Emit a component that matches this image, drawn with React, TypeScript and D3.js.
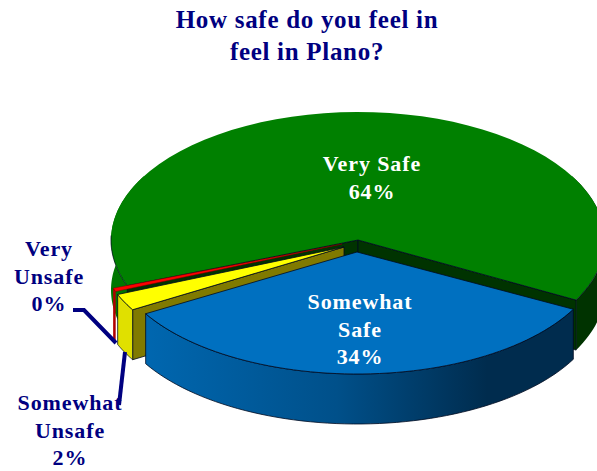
import React from "react";
import * as d3 from "d3";

const categories = ["Somewhat Safe", "Somewhat Unsafe", "Very Unsafe", "Very Safe"];
const values = [34, 2.2, 0.45, 64];
const topColors = ["#0070c0", "#ffff00", "#ff0000", "#008000"];
const sideColors = ["#002c4e", "#807a00", "#b00000", "#003300"];
const titleLines = ["How safe do you feel in", "feel in Plano?"];
const deg = Math.PI / 180;
const startDeg = 118;
const depth = 50;
const centers = [
  { x: 357, y: 252, rx: 245, ry: 122 },
  { x: 344, y: 247, rx: 245, ry: 124 },
  { x: 342, y: 244, rx: 245, ry: 124 },
  { x: 358, y: 240, rx: 247, ry: 128 },
];
const ink = "#000a20";
const navy = "#000080";

const pie = d3.pie<number>().sort(null).startAngle(startDeg * deg).endAngle((startDeg + 360) * deg);
const slices = pie(values);

type C = { x: number; y: number; rx: number; ry: number };
const pt = (c: C, a: number, dy = 0): [number, number] => [
  c.x + c.rx * Math.sin(a),
  c.y - c.ry * Math.cos(a) + dy,
];
const line = d3.line<[number, number]>();
const arcPts = (c: C, a0: number, a1: number, dy = 0) =>
  d3.range(0, 61).map((i) => pt(c, a0 + ((a1 - a0) * i) / 60, dy));

const topPath = (c: C, a0: number, a1: number) =>
  line([[c.x, c.y], ...arcPts(c, a0, a1)])! + "Z";
const outerWall = (c: C, a0: number, a1: number) =>
  line([...arcPts(c, a0, a1), ...arcPts(c, a1, a0, depth)])! + "Z";
const radialWall = (c: C, a: number) =>
  line([[c.x, c.y], pt(c, a), pt(c, a, depth), [c.x, c.y + depth]])! + "Z";

const labelStyle = {
  fontFamily: "'Liberation Serif', serif",
  fontWeight: 700,
  fontSize: 22,
  letterSpacing: 0.9,
  textAnchor: "middle" as const,
};

function Label({ x, y, lines, fill }: { x: number; y: number; lines: string[]; fill: string }) {
  return (
    <text {...labelStyle} fill={fill} x={x} y={y}>
      {lines.map((l, i) => (
        <tspan key={l} x={x} dy={i === 0 ? 0 : 27.5}>{l}</tspan>
      ))}
    </text>
  );
}

export default function App() {
  const [blue, yellow, red, green] = slices;
  const cB = centers[0], cY = centers[1], cR = centers[2], cG = centers[3];
  const strokeProps = { stroke: ink, strokeWidth: 0.8, strokeLinejoin: "round" as const };
  return (
    <svg width={597} height={471} style={{ position: "absolute", left: 0, top: 0, background: "#fff" }}>
      <defs>
        <linearGradient id="blueWall" gradientUnits="userSpaceOnUse" x1={143} x2={573} y1={0} y2={0}>
          <stop offset="0" stopColor="#0067b0" />
          <stop offset="0.45" stopColor="#00508a" />
          <stop offset="0.8" stopColor={sideColors[0]} />
        </linearGradient>
        <linearGradient id="greenWall" gradientUnits="userSpaceOnUse" x1={111} x2={597} y1={0} y2={0}>
          <stop offset="0" stopColor="#007800" />
          <stop offset="0.9" stopColor={sideColors[3]} />
        </linearGradient>
      </defs>

      {/* green slice: walls, then top */}
      <path d={outerWall(cG, 248 * deg, 300 * deg)} fill="url(#greenWall)" stroke="none" />
      <path d={outerWall(cG, 60 * deg, startDeg * deg)} fill={sideColors[3]} stroke="none" />
      <path d={radialWall(cG, green.startAngle)} fill={sideColors[3]} {...strokeProps} />
      <path d={radialWall(cG, green.endAngle)} fill={sideColors[3]} {...strokeProps} />
      <path d={topPath(cG, green.startAngle, green.endAngle)} fill={topColors[3]} stroke="none" />
      <path d={line(arcPts(cG, green.startAngle, 272 * deg))!} fill="none" {...strokeProps} />
      <path d={line(arcPts(cG, 88 * deg, startDeg * deg))!} fill="none" {...strokeProps} />
      <path d={line([pt(cG, green.startAngle), [cG.x, cG.y], pt(cG, startDeg * deg)])!} fill="none" {...strokeProps} />

      {/* red sliver */}
      <path d={outerWall(cR, red.startAngle, red.endAngle)} fill={sideColors[2]} stroke="none" />
      <path d={topPath(cR, red.startAngle, red.endAngle)} fill={topColors[2]} stroke="#7a0000" strokeWidth={0.5} />

      {/* yellow slice */}
      <path d={radialWall(cY, yellow.startAngle)} fill={sideColors[1]} {...strokeProps} />
      <path d={outerWall(cY, yellow.startAngle, yellow.endAngle)} fill="#e0e000" {...strokeProps} />
      <path d={topPath(cY, yellow.startAngle, yellow.endAngle)} fill={topColors[1]} {...strokeProps} />

      {/* blue slice */}
      <path d={outerWall(cB, blue.startAngle, blue.endAngle)} fill="url(#blueWall)" {...strokeProps} />
      <path d={topPath(cB, blue.startAngle, blue.endAngle)} fill={topColors[0]} {...strokeProps} />

      {/* leader lines */}
      <polyline points="73,310 84,310 116,343" fill="none" stroke={navy} strokeWidth={4} />
      <polyline points="125,352 119,405" fill="none" stroke={navy} strokeWidth={4} />

      {/* title */}
      <text fontFamily="'Liberation Serif', serif" fontWeight={700} fontSize={25} letterSpacing={0.7} fill={navy} textAnchor="middle">
        {titleLines.map((l, i) => (
          <tspan key={l} x={307} y={28 + i * 32}>{l}</tspan>
        ))}
      </text>

      <Label x={372} y={171} lines={["Very Safe", "64%"]} fill="#ffffff" />
      <Label x={360} y={309} lines={["Somewhat", "Safe", "34%"]} fill="#ffffff" />
      <Label x={49} y={256} lines={["Very", "Unsafe", "0%"]} fill={navy} />
      <Label x={70} y={410} lines={["Somewhat", "Unsafe", "2%"]} fill={navy} />
    </svg>
  );
}
